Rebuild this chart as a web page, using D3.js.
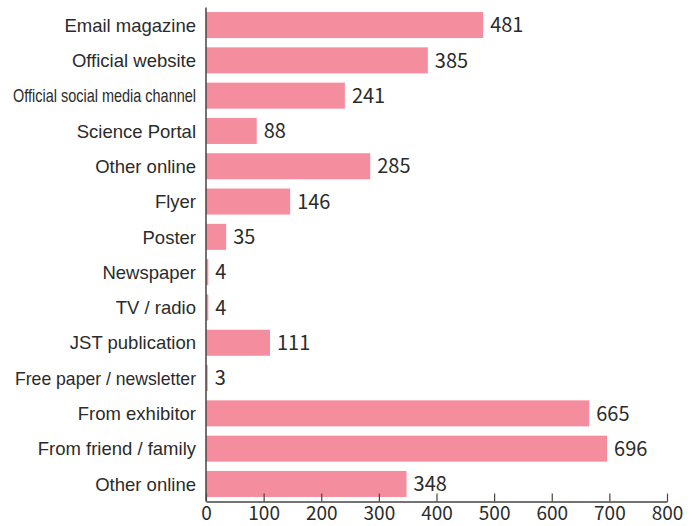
<!DOCTYPE html>
<html>
<head>
<meta charset="utf-8">
<script src="https://cdn.jsdelivr.net/npm/d3@7"></script>
<style>
  html, body { margin: 0; padding: 0; background: #fff; }
  svg { display: block; }
</style>
</head>
<body>
<svg id="chart" width="700" height="526"></svg>
<script>
// Where visitors heard about the event (number of responses)
const categories = [
  "Email magazine",
  "Official website",
  "Official social media channel",
  "Science Portal",
  "Other online",
  "Flyer",
  "Poster",
  "Newspaper",
  "TV / radio",
  "JST publication",
  "Free paper / newsletter",
  "From exhibitor",
  "From friend / family",
  "Other online"
];
const counts = [481, 385, 241, 88, 285, 146, 35, 4, 4, 111, 3, 665, 696, 348];
const xTicks = [0, 100, 200, 300, 400, 500, 600, 700, 800];

const data = categories.map((c, i) => ({ key: i, label: c, value: counts[i] }));

const svg = d3.select("#chart");
const margin = { left: 206, right: 33, top: 7.4, bottom: 24.4 };
const W = 700, H = 526;

const x = d3.scaleLinear()
  .domain([0, 800])
  .range([margin.left, W - margin.right]);

const y = d3.scaleBand()
  .domain(data.map(d => d.key))
  .range([margin.top, H - margin.bottom])
  .paddingInner(0.263)
  .paddingOuter(0.1315);

const barColor = "#F48D9E";
const axisColor = "#444";
const textColor = "#2b2b2b";

// Bars
svg.append("g")
  .selectAll("rect")
  .data(data)
  .join("rect")
  .attr("x", x(0))
  .attr("y", d => y(d.key))
  .attr("width", d => x(d.value) - x(0))
  .attr("height", y.bandwidth())
  .attr("fill", barColor);

// Value labels at the end of each bar
svg.append("g")
  .selectAll("text")
  .data(data)
  .join("text")
  .attr("x", d => x(d.value) + 7)
  .attr("y", d => y(d.key) + y.bandwidth() / 2)
  .attr("dy", "0.36em")
  .attr("fill", textColor)
  .style("font-family", "'Noto Sans CJK JP', 'Noto Sans', sans-serif")
  .style("font-size", "20px")
  .text(d => d.value);

// Category labels
const catLabels = svg.append("g")
  .selectAll("text")
  .data(data)
  .join("text")
  .attr("x", margin.left - 10)
  .attr("y", d => y(d.key) + y.bandwidth() / 2)
  .attr("dy", "0.36em")
  .attr("text-anchor", "end")
  .attr("fill", textColor)
  .style("font-family", "'Liberation Sans', Arial, sans-serif")
  .style("font-size", "18.5px")
  .text(d => d.label);

// Long labels are set slightly condensed to fit the margin
const condensed = { "Official social media channel": 183, "Free paper / newsletter": 181 };
catLabels.filter(d => condensed[d.label])
  .attr("textLength", d => condensed[d.label])
  .attr("lengthAdjust", "spacingAndGlyphs");

// Bottom axis with inward ticks
const xAxis = d3.axisBottom(x)
  .tickValues(xTicks)
  .tickSizeInner(-8)
  .tickSizeOuter(0)
  .tickPadding(5);

const gx = svg.append("g")
  .attr("transform", `translate(0,${H - margin.bottom})`)
  .call(xAxis);
gx.select(".domain").attr("stroke", axisColor).attr("stroke-width", 1.5);
gx.selectAll(".tick line").attr("stroke", axisColor).attr("stroke-width", 1.2);
gx.selectAll(".tick text")
  .attr("fill", textColor)
  .style("font-family", "'Noto Sans CJK JP', 'Noto Sans', sans-serif")
  .style("font-size", "19px");

// Left axis line
svg.append("line")
  .attr("x1", x(0)).attr("x2", x(0))
  .attr("y1", margin.top).attr("y2", H - margin.bottom)
  .attr("stroke", axisColor)
  .attr("stroke-width", 1.5);
</script>
</body>
</html>
